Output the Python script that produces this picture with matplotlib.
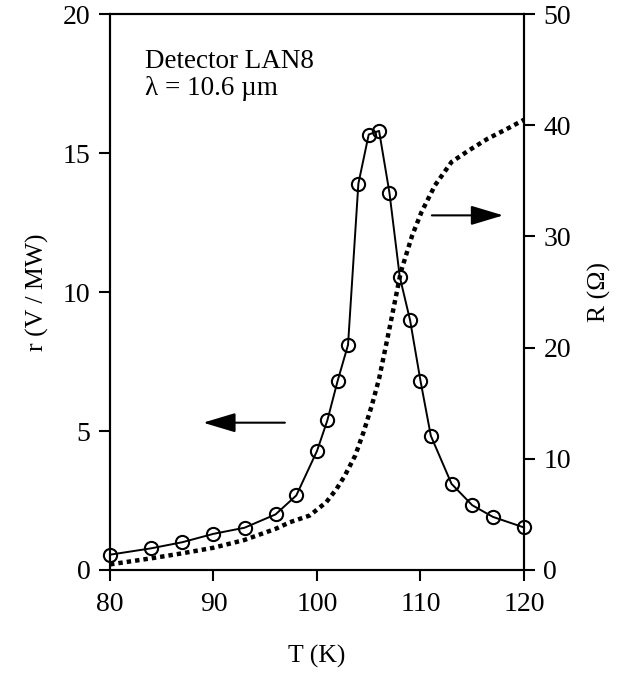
import matplotlib
matplotlib.use('Agg')
import matplotlib.pyplot as plt

plt.rcParams['font.family'] = ['Liberation Serif', 'DejaVu Serif']

# responsivity r (V/MW) vs temperature
T_r = [80, 84, 87, 90, 93, 96, 98, 100, 101, 102, 103, 104, 105, 106, 107, 108, 109, 110, 111, 113, 115, 117, 120]
r_vals = [0.55, 0.78, 1.0, 1.3, 1.52, 2.0, 2.68, 4.28, 5.38, 6.81, 8.1, 13.9, 15.67, 15.8, 13.58, 10.55, 8.98, 6.81, 4.83, 3.1, 2.33, 1.91, 1.53]

# resistance R (Ohm) vs temperature
T_R = [80, 84, 87, 90, 93, 96, 97.4, 99.3, 100.9, 101.9, 102.7, 103.7, 104.5, 105.3, 106.0, 106.6, 107.0,
       108.1, 109.2, 110.1, 111.4, 113.0, 114.6, 116.5, 118.4, 120]
R_vals = [0.5, 1.05, 1.5, 2.0, 2.7, 3.7, 4.3, 4.9, 6.1, 7.3, 8.5, 10.3, 12.4, 14.8, 17.2, 19.9, 21.7,
          26.8, 30.1, 32.2, 34.6, 36.7, 37.7, 38.8, 39.7, 40.5]

x_ticks = [80, 90, 100, 110, 120]
r_ticks = [0, 5, 10, 15, 20]
R_ticks = [0, 10, 20, 30, 40, 50]

fig = plt.figure(figsize=(6.26, 6.75), dpi=100)
ax = fig.add_axes([0.1757, 0.1556, 0.6613, 0.8234])
ax2 = ax.twinx()

ax.plot(T_r, r_vals, color='black', lw=1.4, marker='o', markersize=9.5,
        markerfacecolor='none', markeredgewidth=1.5, markeredgecolor='black', clip_on=False, zorder=3)
ax2.plot(T_R, R_vals, color='black', lw=3.2, linestyle=(0, (1, 0.9)),
         dash_capstyle='butt', clip_on=False)

ax.set_xlim(80, 120)
ax.set_ylim(0, 20)
ax2.set_ylim(0, 50)
ax.set_xticks(x_ticks)
ax.set_yticks(r_ticks)
ax2.set_yticks(R_ticks)

for a in (ax, ax2):
    for s in a.spines.values():
        s.set_linewidth(1.5)
    a.tick_params(direction='out', length=8, width=1.5, labelsize=20, pad=6)
ax.tick_params(axis='x', pad=8)

ax.set_xlabel('T (K)', fontsize=18.5, labelpad=20)
ax.set_ylabel('r (V / MW)', fontsize=18.5, labelpad=10)
ax2.set_ylabel('R (Ω)', fontsize=18.5, labelpad=12)

ax.text(83.4, 17.8, 'Detector LAN8\nλ = 10.6 µm', fontsize=19.5, va='center', ha='left', linespacing=1.1)

# arrows indicating which axis each curve belongs to
arrow_style = dict(arrowstyle='-|>,head_length=2.0,head_width=0.6', color='black', lw=1.5,
                   mutation_scale=10, shrinkA=0, shrinkB=0)
ax.annotate('', xy=(89.0, 5.3), xytext=(96.9, 5.3), arrowprops=arrow_style)
ax2.annotate('', xy=(118.0, 31.9), xytext=(111.1, 31.9), arrowprops=arrow_style)

fig.savefig('out.png', dpi=100)
